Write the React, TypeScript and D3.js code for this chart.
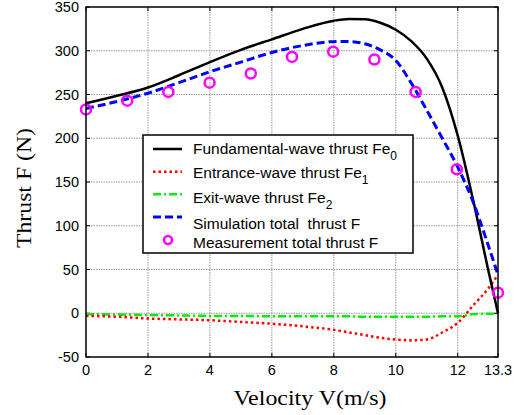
import React from "react";
import * as d3 from "d3";

const velocity = [0, 1, 2, 3, 4, 5, 6, 7, 8, 8.5, 9, 9.5, 10, 10.5, 11, 11.5, 12, 12.5, 13, 13.3];
const fundamental = [240, 248.5, 258, 272, 287, 301, 313, 325, 334.4, 336.3, 336, 332, 324, 311, 291, 258, 203, 129, 47, 0];
const simulation = [234, 242, 251.5, 263.5, 276, 287, 298, 306, 310.4, 310.5, 308, 301, 289, 263, 232, 200, 167, 127, 76, 44];
const entrance = [-3, -4, -6, -7, -8, -10, -12, -15, -19, -22, -25, -28, -30, -31, -30, -22, -11, 9, 29, 44];
const exitWave = [-1, -1.5, -2, -2.5, -3, -3, -3.5, -3.5, -3.5, -3.5, -4, -4, -4, -4, -4, -3.5, -3.5, -1, -0.5, -0.5];

const measV = [0, 1.33, 2.66, 3.99, 5.32, 6.65, 7.98, 9.31, 10.64, 11.97, 13.3];
const measF = [233, 243, 253, 263.5, 274, 293, 299, 290, 253, 164.5, 23.5];

const xTicks = [0, 2, 4, 6, 8, 10, 12, 13.3];
const yTicks = [-50, 0, 50, 100, 150, 200, 250, 300, 350];

const W = 527;
const H = 415;
const L = 86, R = 498, T = 7, B = 357;

export default function App() {
  const x = d3.scaleLinear().domain([0, 13.3]).range([L, R]);
  const y = d3.scaleLinear().domain([-50, 350]).range([B, T]);
  const mk = (arr: number[]) =>
    d3.line<number>().x((_, i) => x(velocity[i])).y((d) => y(d)).curve(d3.curveMonotoneX)(arr) || "";

  const sans = "'Liberation Sans', Arial, sans-serif";
  const serif = "'Liberation Serif', 'Times New Roman', serif";
  const legX = 143, legY = 135, legW = 270, legH = 118;
  const lx1 = 153, lx2 = 182, tx = 193;
  const rows = [149, 171.7, 194.3, 217, 240];
  const fs = 15.5;

  return (
    <svg width={W} height={H} style={{ position: "absolute", left: 0, top: 0, background: "#fff" }}>
      <rect x={0} y={0} width={W} height={H} fill="#fff" />
      {/* grid */}
      {xTicks.filter((t) => t > 0 && t < 13.3).map((t) => (
        <line key={"gx" + t} x1={x(t)} x2={x(t)} y1={T} y2={B} stroke="#9a9a9a" strokeWidth={1} strokeDasharray="1.5,1" />
      ))}
      {yTicks.filter((t) => t > -50 && t < 350).map((t) => (
        <line key={"gy" + t} x1={L} x2={R} y1={y(t)} y2={y(t)} stroke="#9a9a9a" strokeWidth={1} strokeDasharray="1.5,1" />
      ))}
      {/* ticks */}
      {xTicks.map((t) => (
        <g key={"tx" + t}>
          <line x1={x(t)} x2={x(t)} y1={B} y2={B - 4} stroke="#000" />
          <line x1={x(t)} x2={x(t)} y1={T} y2={T + 4} stroke="#000" />
          <text x={x(t)} y={375} textAnchor="middle" fontFamily={sans} fontSize={14.5} fill="#000">{t}</text>
        </g>
      ))}
      {yTicks.map((t) => (
        <g key={"ty" + t}>
          <line x1={L} x2={L + 4} y1={y(t)} y2={y(t)} stroke="#000" />
          <line x1={R} x2={R - 4} y1={y(t)} y2={y(t)} stroke="#000" />
          <text x={79} y={y(t) + 5} textAnchor="end" fontFamily={sans} fontSize={14.5} fill="#000">{t}</text>
        </g>
      ))}
      {/* curves */}
      <path d={mk(exitWave)} fill="none" stroke="#00ee00" strokeWidth={2.5} strokeDasharray="8,3,2,3" />
      <path d={mk(entrance)} fill="none" stroke="#ff0000" strokeWidth={2.5} strokeDasharray="2.5,3" />
      <path d={mk(fundamental)} fill="none" stroke="#000" strokeWidth={2.5} />
      <path d={mk(simulation)} fill="none" stroke="#0000ff" strokeWidth={3} strokeDasharray="8,4" />
      {measF.map((f, i) => (
        <circle key={"m" + i} cx={x(measV[i])} cy={y(f)} r={5} fill="none" stroke="#ff00ff" strokeWidth={2.5} />
      ))}
      {/* axes box */}
      <rect x={L} y={T} width={R - L} height={B - T} fill="none" stroke="#000" strokeWidth={1.5} />
      {/* legend */}
      <rect x={legX} y={legY} width={legW} height={legH} fill="#fff" stroke="#000" strokeWidth={1.5} />
      <line x1={lx1} x2={lx2} y1={rows[0]} y2={rows[0]} stroke="#000" strokeWidth={2.5} />
      <line x1={lx1} x2={lx2} y1={rows[1]} y2={rows[1]} stroke="#ff0000" strokeWidth={2.5} strokeDasharray="2.5,3" />
      <line x1={lx1} x2={lx2} y1={rows[2]} y2={rows[2]} stroke="#00ee00" strokeWidth={2.5} strokeDasharray="8,3,2,3" />
      <line x1={lx1} x2={lx2} y1={rows[3]} y2={rows[3]} stroke="#0000ff" strokeWidth={3} strokeDasharray="8,4" />
      <circle cx={168} cy={rows[4]} r={4} fill="none" stroke="#ff00ff" strokeWidth={2.5} />
      <g fontFamily={sans} fontSize={fs} fill="#000">
        <text x={tx} y={154}>Fundamental-wave thrust Fe<tspan dy={6} fontSize={12}>0</tspan></text>
        <text x={tx} y={178}>Entrance-wave thrust Fe<tspan dy={6} fontSize={12}>1</tspan></text>
        <text x={tx} y={203}>Exit-wave thrust Fe<tspan dy={6} fontSize={12}>2</tspan></text>
        <text x={tx} y={228.5} style={{ whiteSpace: "pre" }}>{"Simulation total  thrust F"}</text>
        <text x={tx} y={248}>Measurement total thrust F</text>
      </g>
      {/* axis titles */}
      <text x={310} y={405} textAnchor="middle" fontFamily={serif} fontSize={21} textLength={153} lengthAdjust="spacingAndGlyphs" fill="#000">Velocity V(m/s)</text>
      <text transform="translate(31,188) rotate(-90)" x={0} y={0} textAnchor="middle" fontFamily={serif} fontSize={21} textLength={120} lengthAdjust="spacingAndGlyphs" fill="#000">Thrust F (N)</text>
    </svg>
  );
}
